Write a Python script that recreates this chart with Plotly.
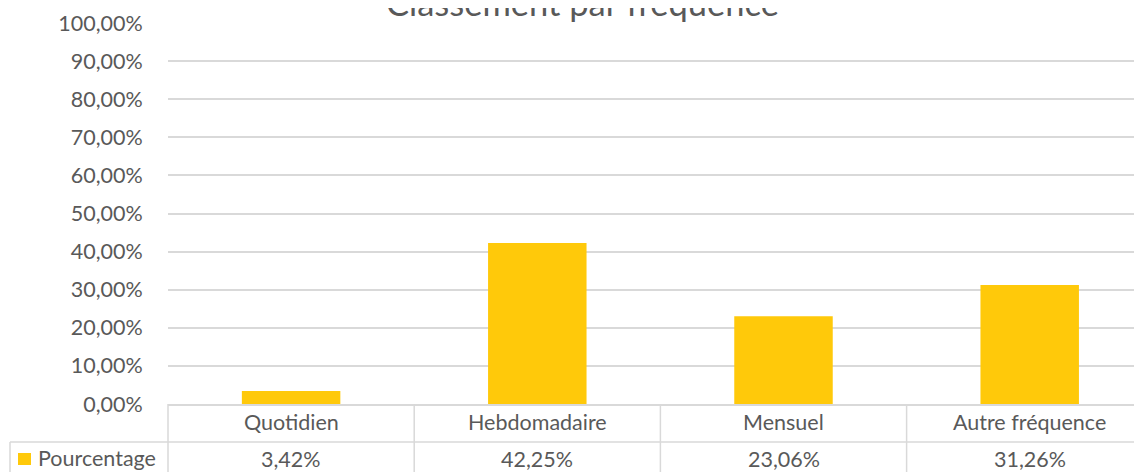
import plotly.graph_objects as go

# ---- data ----
title_text = "Classement par fréquence"
series_name = "Pourcentage"
categories = ["Quotidien", "Hebdomadaire", "Mensuel", "Autre fréquence"]
values = [0.0342, 0.4225, 0.2306, 0.3126]
y_ticks = [0, 0.1, 0.2, 0.3, 0.4, 0.5, 0.6, 0.7, 0.8, 0.9, 1.0]

# ---- layout geometry (page pixels; the page body adds an 8px offset) ----
OFF = 8
PAGE_W, PAGE_H = 1142, 472
plot_left, plot_top, plot_bottom = 168, 23, 404
W, H = PAGE_W - OFF, PAGE_H - OFF
L, R, T = plot_left - OFF, 0, plot_top - OFF
B = H - (plot_bottom - OFF)
plot_w = W - L - R
plot_h = H - T - B
cat_px = 246.2
x_span = plot_w / cat_px  # visible category units (last column is cropped)

TXT = "#595959"
GRID = "#d9d9d9"
BAR = "#ffc90a"
FONT = "Lato"
FS = 21.5


def px_x(px):
    return (px - plot_left) / plot_w


def px_y(py):
    return (plot_bottom - py) / plot_h


def cat_paper(edge):
    return (edge + 0.5) / x_span


def fmt_pct(v):
    return f"{v * 100:.2f}%".replace(".", ",")


fig = go.Figure()
fig.add_trace(go.Bar(
    x=categories, y=values, name=series_name,
    marker=dict(color=BAR, line=dict(width=0)),
    width=0.4, showlegend=False, hoverinfo="skip",
))

shapes = []
line = dict(color=GRID, width=1.5)
row_sep = px_y(442)
bottom = px_y(480)
shapes.append(dict(type="line", xref="paper", yref="paper",
                   x0=px_x(10), x1=1, y0=row_sep, y1=row_sep, line=line))
shapes.append(dict(type="line", xref="paper", yref="paper",
                   x0=px_x(10), x1=px_x(10), y0=row_sep, y1=bottom, line=line))
for i in range(len(categories)):
    xp = cat_paper(i - 0.5)
    shapes.append(dict(type="line", xref="paper", yref="paper",
                       x0=xp, x1=xp, y0=0, y1=bottom, line=line))
shapes.append(dict(type="rect", xref="paper", yref="paper",
                   x0=px_x(18), x1=px_x(31), y0=px_y(465), y1=px_y(453),
                   fillcolor=BAR, line=dict(width=0)))

annotations = []
for c, v in zip(categories, values):
    annotations.append(dict(x=c, xref="x", y=px_y(422), yref="paper",
                            text=c, showarrow=False, xanchor="center",
                            yanchor="middle",
                            font=dict(family=FONT, size=FS, color=TXT)))
    annotations.append(dict(x=c, xref="x", y=px_y(459), yref="paper",
                            text=fmt_pct(v), showarrow=False, xanchor="center",
                            yanchor="middle",
                            font=dict(family=FONT, size=FS, color=TXT)))
annotations.append(dict(x=px_x(36), xref="paper", y=px_y(458), yref="paper",
                        text=series_name, showarrow=False, xanchor="left",
                        yanchor="middle",
                        font=dict(family=FONT, size=FS, color=TXT)))
annotations.append(dict(x=px_x(582), xref="paper", y=px_y(3), yref="paper",
                        text=title_text, showarrow=False, xanchor="center",
                        yanchor="middle",
                        font=dict(family=FONT, size=34.5, color=TXT)))

fig.update_layout(
    width=W, height=H,
    margin=dict(l=L, r=R, t=T, b=B, pad=0),
    paper_bgcolor="white", plot_bgcolor="white",
    separators=", ",
    shapes=shapes,
    annotations=annotations,
    font=dict(family=FONT, size=FS, color=TXT),
)
fig.update_xaxes(
    type="category", range=[-0.5, -0.5 + x_span],
    showticklabels=False, ticks="", showgrid=False,
    showline=True, linecolor=GRID, linewidth=1.5, zeroline=False,
    fixedrange=True,
)
fig.update_yaxes(
    range=[0, 1], tickvals=y_ticks, tickformat=".2%",
    showgrid=True, gridcolor=GRID, gridwidth=1.5,
    zeroline=False, showline=False,
    ticks="outside", ticklen=20, tickcolor="rgba(0,0,0,0)",
    tickfont=dict(family=FONT, size=FS, color=TXT),
    fixedrange=True,
)

fig.write_html("out.html")
